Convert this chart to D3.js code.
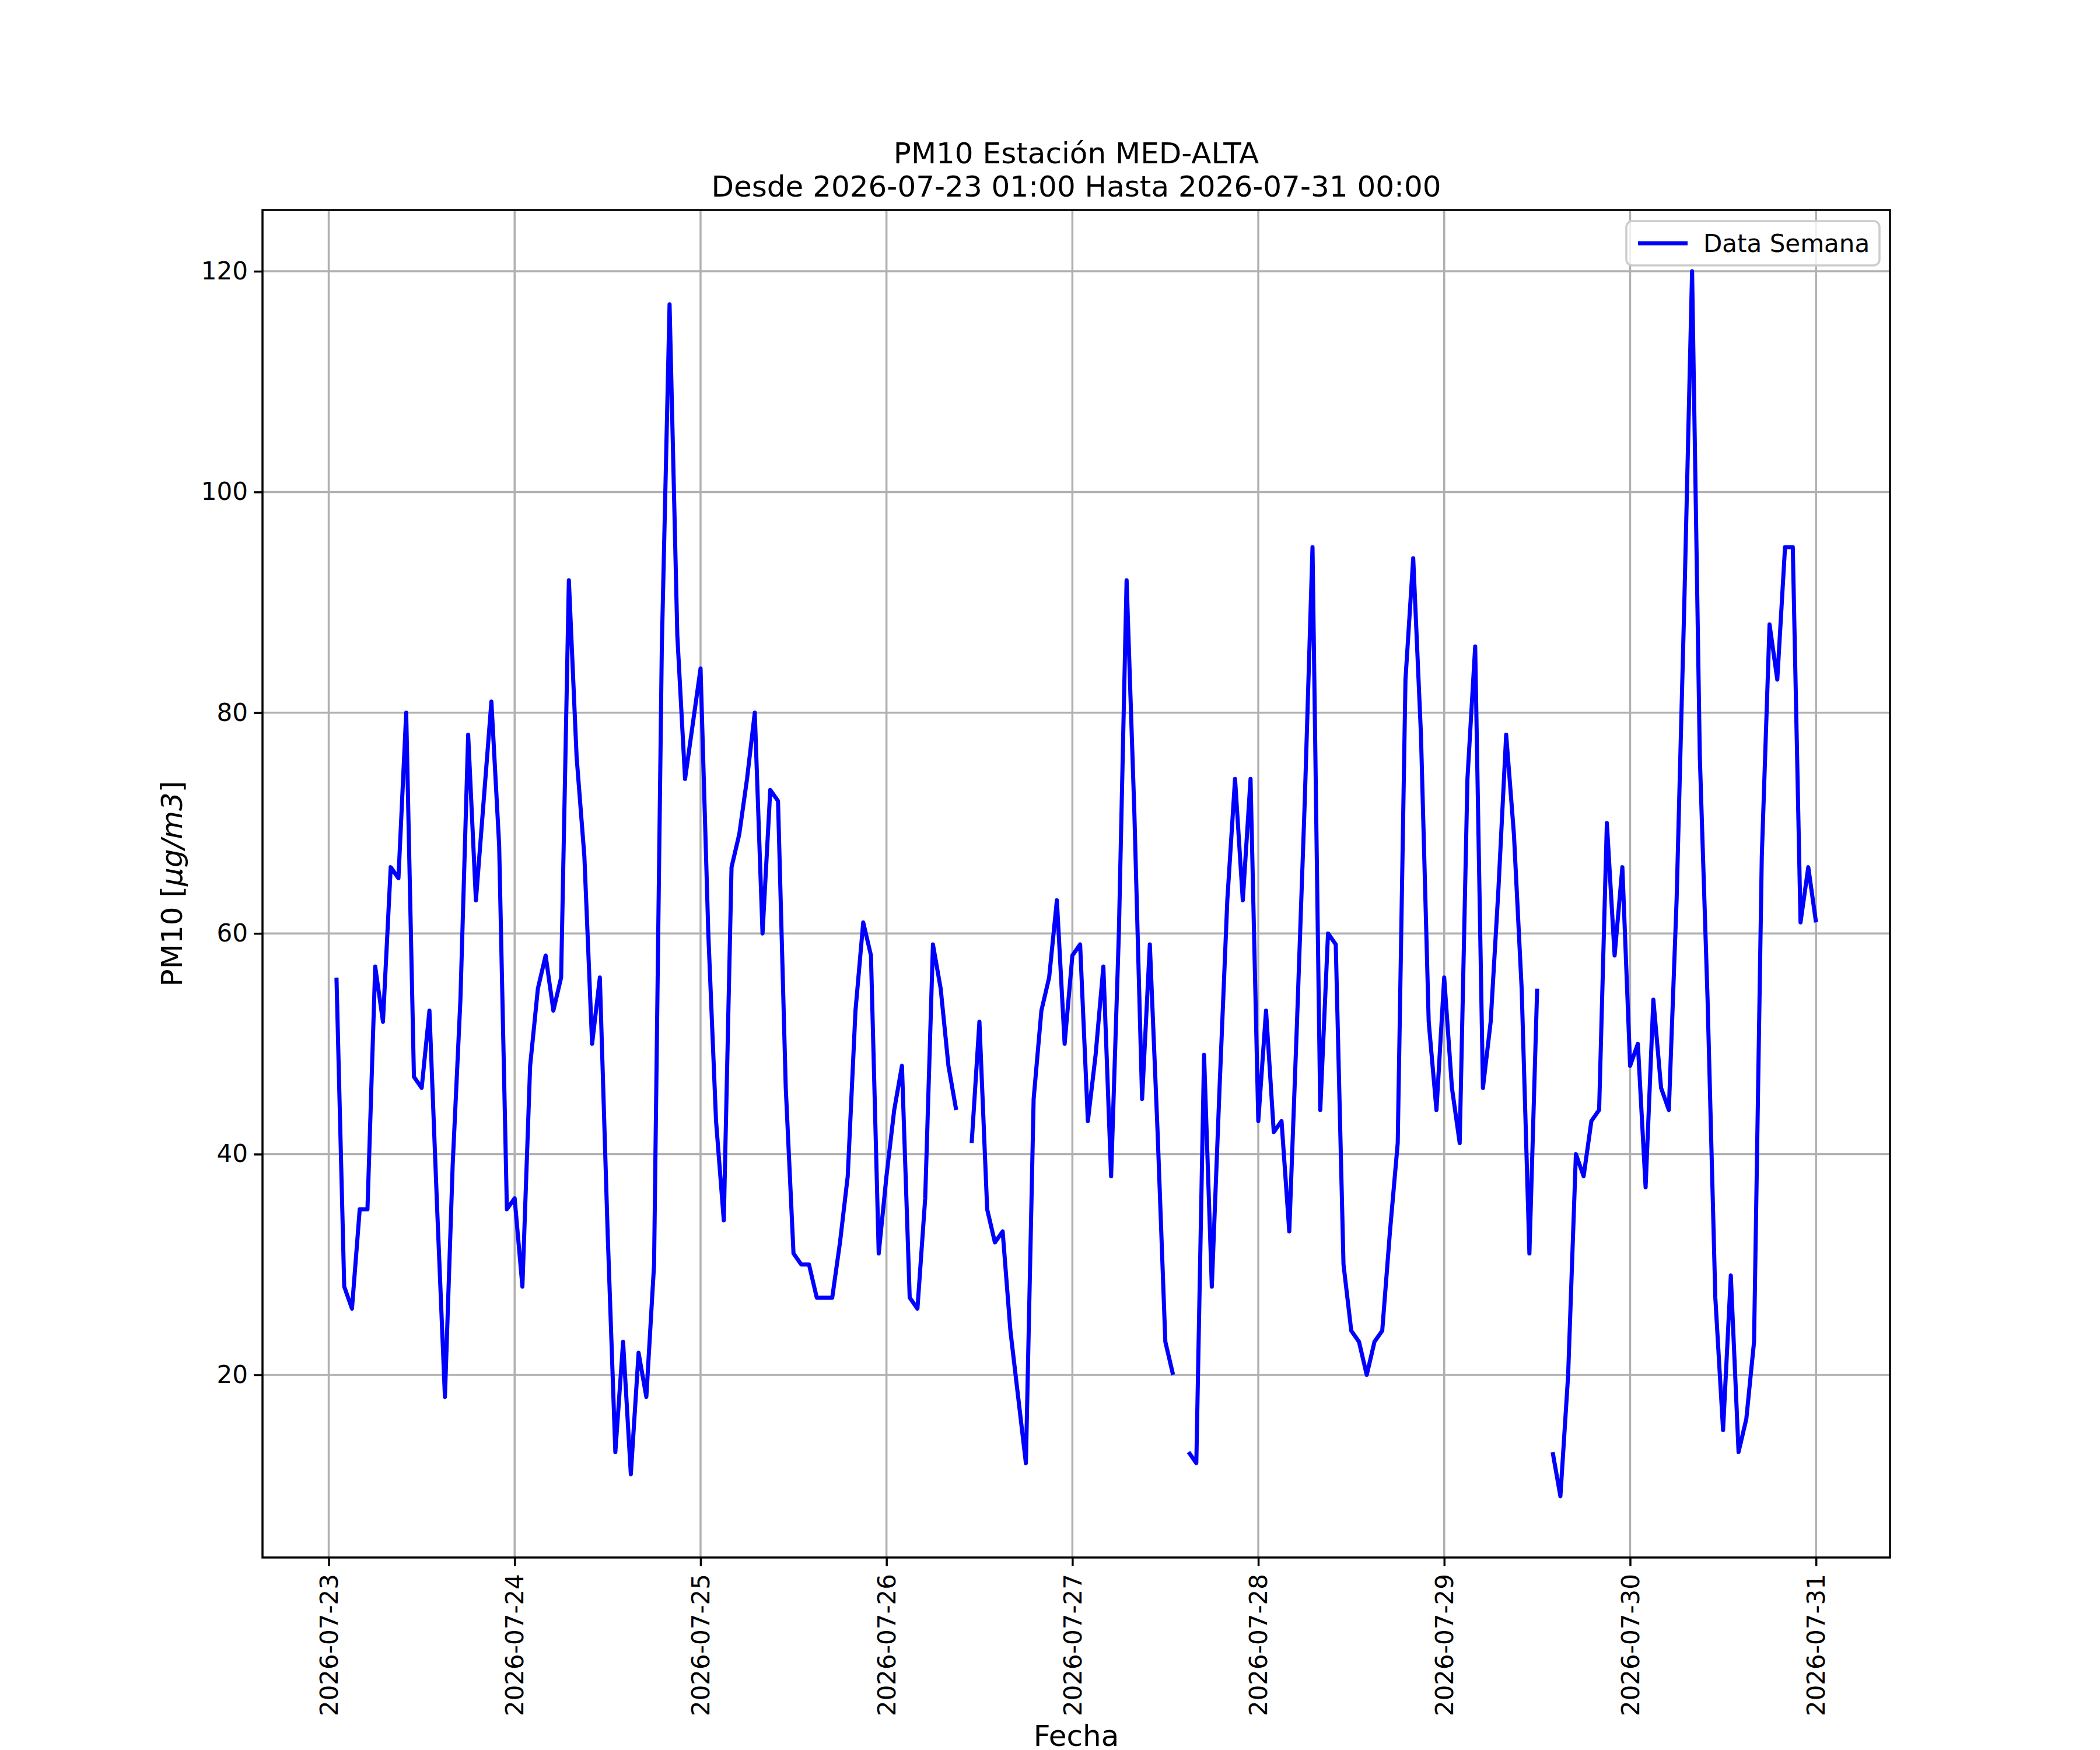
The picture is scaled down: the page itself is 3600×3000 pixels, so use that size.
<!DOCTYPE html>
<html>
<head>
<meta charset="utf-8">
<script src="https://cdn.jsdelivr.net/npm/d3@7"></script>
<style>
  body { margin: 0; background: #fff; }
  text { font-family: "DejaVu Sans", sans-serif; }
</style>
</head>
<body>
<svg id="chart" width="3600" height="3000"></svg>
<script>
// hourly PM10 values from 2026-07-23 01:00 to 2026-07-31 00:00 (null = missing)
var startTime = Date.UTC(2026, 6, 23, 1);
var pm10 = [
  56, 28, 26, 35, 35, 57, 52, 66, 65, 80, 47, 46, 53, 35, 18, 39, 54, 78, 63, 72, 81, 68, 35, 36,
  28, 48, 55, 58, 53, 56, 92, 76, 67, 50, 56, 33, 13, 23, 11, 22, 18, 30, 86, 117, 87, 74, 79, 84,
  60, 43, 34, 66, 69, 74, 80, 60, 73, 72, 46, 31, 30, 30, 27, 27, 27, 32, 38, 53, 61, 58, 31, 38,
  44, 48, 27, 26, 36, 59, 55, 48, 44, null, 41, 52, 35, 32, 33, 24, 18, 12, 45, 53, 56, 63, 50, 58,
  59, 43, 49, 57, 38, 60, 92, 71, 45, 59, 42, 23, 20, null, 13, 12, 49, 28, 46, 63, 74, 63, 74, 43,
  53, 42, 43, 33, 52, 72, 95, 44, 60, 59, 30, 24, 23, 20, 23, 24, 33, 41, 83, 94, 78, 52, 44, 56,
  46, 41, 74, 86, 46, 52, 64, 78, 69, 55, 31, 55, null, 13, 9, 20, 40, 38, 43, 44, 70, 58, 66, 48,
  50, 37, 54, 46, 44, 63, 90, 120, 76, 54, 27, 15, 29, 13, 16, 23, 67, 88, 83, 95, 95, 61, 66, 61
];
var dayTicks = ["2026-07-23", "2026-07-24", "2026-07-25", "2026-07-26", "2026-07-27",
                "2026-07-28", "2026-07-29", "2026-07-30", "2026-07-31"];
var yTicks = [20, 40, 60, 80, 100, 120];

var data = pm10.map((v, i) => ({ t: new Date(startTime + i * 3600e3), v: v }));

let chart = d3.select("#chart"),
    margin = { top: 360, right: 360, bottom: 330, left: 450 },
    width = 3600 - margin.left - margin.right,
    height = 3000 - margin.top - margin.bottom;

let vals = pm10.filter(v => v !== null);
let minV = d3.min(vals), maxV = d3.max(vals), pad = (maxV - minV) * 0.05;
let tMin = data[0].t, tMax = data[data.length - 1].t, tPad = (tMax - tMin) * 0.05;

let x = d3.scaleUtc()
    .domain([new Date(+tMin - tPad), new Date(+tMax + tPad)])
    .range([0, width]);
let y = d3.scaleLinear()
    .domain([minV - pad, maxV + pad])
    .range([height, 0]);

let focus = chart.append("g")
    .attr("transform", "translate(" + margin.left + "," + margin.top + ")");

let tickDates = dayTicks.map(d => new Date(d + "T00:00:00Z"));

// grid
focus.append("g").selectAll("line").data(tickDates).enter().append("line")
    .attr("x1", d => x(d)).attr("x2", d => x(d))
    .attr("y1", 0).attr("y2", height)
    .style("stroke", "#b0b0b0").style("stroke-width", 3.5);
focus.append("g").selectAll("line").data(yTicks).enter().append("line")
    .attr("x1", 0).attr("x2", width)
    .attr("y1", d => y(d)).attr("y2", d => y(d))
    .style("stroke", "#b0b0b0").style("stroke-width", 3.5);

// axes
let xAxis = d3.axisBottom(x).tickValues(tickDates)
    .tickFormat(d3.utcFormat("%Y-%m-%d")).tickSize(15).tickPadding(10);
let gx = focus.append("g")
    .attr("transform", "translate(0," + height + ")")
    .call(xAxis);
gx.select(".domain").remove();
gx.selectAll("line").style("stroke-width", 3.5);
gx.selectAll("text")
    .attr("transform", "rotate(-90)")
    .attr("text-anchor", "end")
    .attr("x", -28).attr("y", 0).attr("dy", "0.35em")
    .style("font-size", "42px").style("fill", "#000");

let yAxis = d3.axisLeft(y).tickValues(yTicks).tickSize(15).tickPadding(10);
let gy = focus.append("g").call(yAxis);
gy.select(".domain").remove();
gy.selectAll("line").style("stroke-width", 3.5);
gy.selectAll("text").style("font-size", "42px").style("fill", "#000");

// data line
let line = d3.line()
    .defined(d => d.v !== null)
    .x(d => x(d.t))
    .y(d => y(d.v));
focus.append("path")
    .datum(data)
    .attr("d", line)
    .style("stroke", "#0000ff")
    .style("fill", "none")
    .style("stroke-width", 7)
    .style("stroke-linejoin", "round");

// frame
focus.append("rect")
    .attr("width", width).attr("height", height)
    .style("fill", "none").style("stroke", "#000").style("stroke-width", 3.5);

// titles
chart.append("text").attr("x", margin.left + width / 2).attr("y", 280)
    .attr("text-anchor", "middle").style("font-size", "50px")
    .text("PM10 Estación MED-ALTA");
chart.append("text").attr("x", margin.left + width / 2).attr("y", 337)
    .attr("text-anchor", "middle").style("font-size", "50px")
    .text("Desde 2026-07-23 01:00 Hasta 2026-07-31 00:00");

chart.append("text").attr("x", margin.left + width / 2).attr("y", 2993)
    .attr("text-anchor", "middle").style("font-size", "50px")
    .text("Fecha");

let yl = chart.append("text")
    .attr("transform", "translate(312," + (margin.top + height / 2) + ") rotate(-90)")
    .attr("text-anchor", "middle").style("font-size", "50px");
yl.append("tspan").text("PM10 [");
yl.append("tspan").style("font-style", "italic").text("μg/m3");
yl.append("tspan").text("]");

// legend
let lg = chart.append("g").attr("transform", "translate(2788,379)");
lg.append("rect").attr("width", 434).attr("height", 76).attr("rx", 10)
    .style("fill", "#fff").style("fill-opacity", 0.8)
    .style("stroke", "#cccccc").style("stroke-width", 3.5);
lg.append("line").attr("x1", 20).attr("x2", 105).attr("y1", 38).attr("y2", 38)
    .style("stroke", "#0000ff").style("stroke-width", 7);
lg.append("text").attr("x", 132).attr("y", 38).attr("dy", "0.35em")
    .style("font-size", "42px").text("Data Semana");
</script>
</body>
</html>
